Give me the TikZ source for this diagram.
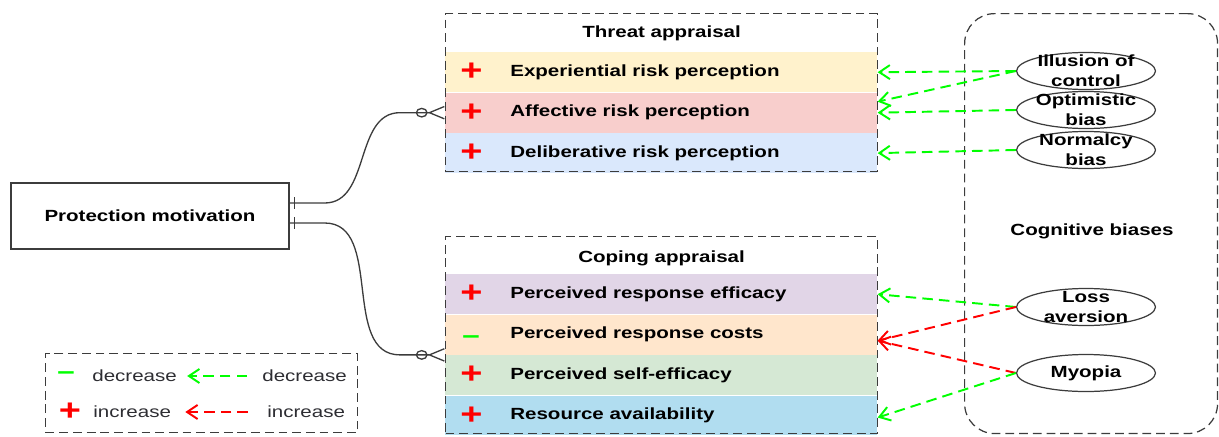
\documentclass[tikz,border=0pt]{standalone}
\usepackage{fontspec}
\setmainfont{Liberation Sans}[FakeStretch=1.27]
\usepackage{xcolor}
\usetikzlibrary{positioning,arrows.meta,shapes.geometric,calc}
\definecolor{framegray}{RGB}{60,60,60}
\definecolor{textgray}{RGB}{45,45,50}
\definecolor{brightgreen}{RGB}{0,255,0}
\definecolor{brightred}{RGB}{255,0,0}
\definecolor{rowyellow}{HTML}{FFF2CC}
\definecolor{rowred}{HTML}{F8CECC}
\definecolor{rowblue}{HTML}{DAE8FC}
\definecolor{rowpurple}{HTML}{E1D5E7}
\definecolor{roworange}{HTML}{FFE6CC}
\definecolor{rowgreen}{HTML}{D5E8D4}
\definecolor{rowcyan}{HTML}{B1DDF0}

\begin{document}
\begin{tikzpicture}[x=0.02cm, y=-0.02cm,
  frame/.style={draw=framegray, line width=0.7pt, dash pattern=on 5pt off 2.8pt, inner sep=0pt},
  rowbox/.style={minimum width=8.64cm, minimum height=0.795cm, inner sep=0pt},
  rowlabel/.style={inner sep=0pt, text=black, font=\bfseries\fontsize{9.2}{11}\selectfont},
  plus/.style={text=brightred, inner sep=0pt, font=\bfseries\fontsize{17}{17}\selectfont},
  minus/.style={text=brightgreen, inner sep=0pt, font=\bfseries\fontsize{14}{14}\selectfont},
  bias/.style={ellipse, draw=framegray, line width=0.7pt, minimum width=2.78cm, minimum height=0.74cm, inner sep=0pt},
  biastext/.style={inner sep=0pt, align=center, font=\bfseries\fontsize{9.2}{11.2}\selectfont},
  dec/.style={draw=brightgreen, line width=1.1pt, dash pattern=on 6pt off 3.5pt,
    -{Straight Barb[length=6pt,width=8pt]}},
  inc/.style={dec, draw=brightred},
  erline/.style={draw=framegray, line width=0.75pt,
    -{Circle[open,length=6.8pt,width=5.6pt] Straight Barb[reversed,length=8.5pt,width=7pt]}},
  tick/.style={draw=framegray, line width=0.75pt},
  legendtext/.style={inner sep=0pt, text=textgray, font=\fontsize{9.2}{11}\selectfont},
]
\useasboundingbox (0,0) rectangle (1219,436);

% protection motivation
\node[draw=framegray, line width=0.8pt, minimum width=5.56cm, minimum height=1.32cm,
  font=\bfseries\fontsize{9.2}{11}\selectfont] (pm) at (150,216) {Protection motivation};

% threat appraisal
\node[rowbox, fill=rowyellow, anchor=north west] (exp) at (445,52) {};
\node[rowbox, fill=rowred, below=0pt of exp] (aff) {};
\node[rowbox, fill=rowblue, below=0pt of aff] (del) {};
\node[frame, minimum width=8.64cm, minimum height=3.16cm, anchor=north west] (threat) at (445,13) {};
\node[rowlabel, anchor=base] at ($(threat.north)+(0,24)$) {Threat appraisal};
\node[rowlabel, right=1.3cm of exp.west] {Experiential risk perception};
\node[rowlabel, right=1.3cm of aff.west] {Affective risk perception};
\node[rowlabel, right=1.3cm of del.west] {Deliberative risk perception};
\foreach \r in {exp,aff,del}
  \node[plus, right=0.3cm of \r.west] {+};

% coping appraisal
\node[rowbox, fill=rowpurple, anchor=north west] (eff) at (445,274) {};
\node[rowbox, fill=roworange, below=0pt of eff] (cost) {};
\node[rowbox, fill=rowgreen, below=0pt of cost] (self) {};
\node[rowbox, fill=rowcyan, below=0pt of self] (res) {};
\node[frame, minimum width=8.64cm, minimum height=3.94cm, anchor=north west] (coping) at (445,236) {};
\node[rowlabel, anchor=base] at ($(coping.north)+(0,26)$) {Coping appraisal};
\node[rowlabel, right=1.3cm of eff.west] {Perceived response efficacy};
\node[rowlabel, right=1.3cm of cost.west] {Perceived response costs};
\node[rowlabel, right=1.3cm of self.west] {Perceived self-efficacy};
\node[rowlabel, right=1.3cm of res.west] {Resource availability};
\foreach \r in {eff,self,res}
  \node[plus, right=0.3cm of \r.west] {+};
\node[minus, right=0.34cm of cost.west, yshift=-3pt] {–};

% ER links
\draw[erline] ($(pm.east)+(0,-13)$) -- ++(35,0) to[out=0,in=180] ($(aff.west)+(-45,0)$) -- (aff.west);
\draw[erline] ($(pm.east)+(0,7)$) -- ++(35,0) to[out=0,in=180] ($(cost.south west)+(-45,0)$) -- (cost.south west);
\draw[tick] ($(pm.east)+(5,-19)$) -- ++(0,12);
\draw[tick] ($(pm.east)+(5,1)$) -- ++(0,12);

% cognitive biases
\node[frame, rounded corners=0.6cm, minimum width=5.06cm, minimum height=8.4cm, anchor=north west] (biases) at (964,13) {};
\node[rowlabel] at (1092,231) {Cognitive biases};
\node[bias, label={[biastext]center:{Illusion of\\control}}] (ill) at (1086,71) {};
\node[bias, label={[biastext]center:{Optimistic\\bias}}] (opt) at (1086,110) {};
\node[bias, label={[biastext]center:{Normalcy\\bias}}] (nor) at (1086,150) {};
\node[bias, label={[biastext]center:{Loss\\aversion}}] (loss) at (1086,307) {};
\node[bias, label={[biastext]center:{Myopia}}] (myo) at (1086,373) {};

\draw[dec] (ill.west) -- (exp.east);
\draw[dec] (ill.west) -- ($(aff.east)+(0,-11)$);
\draw[dec] (opt.west) -- (aff.east);
\draw[dec] (nor.west) -- (del.east);
\draw[dec] (loss.west) -- (eff.east);
\draw[inc] (loss.west) -- ($(cost.east)+(0,6)$);
\draw[inc] (myo.west) -- ($(cost.east)+(0,6)$);
\draw[dec] (myo.west) -- ($(res.east)+(0,2)$);

% legend
\node[frame, minimum width=6.24cm, minimum height=1.58cm, anchor=north west] (legend) at (45,353) {};
\node[minus] at (66,376) {–};
\node[legendtext, anchor=west] (decl) at (92,376) {decrease};
\node[legendtext, anchor=west] (decr) at (262,376) {decrease};
\node[plus] at (70,412) {+};
\node[legendtext, anchor=west] (incl) at (93,412) {increase};
\node[legendtext, anchor=west] (incr) at (267,412) {increase};
\draw[dec, shorten <=8.5pt, shorten >=5.7pt] (decr.west) -- (decl.east);
\draw[inc, shorten <=10.8pt, shorten >=8pt] (incr.west) -- (incl.east);
\end{tikzpicture}
\end{document}
